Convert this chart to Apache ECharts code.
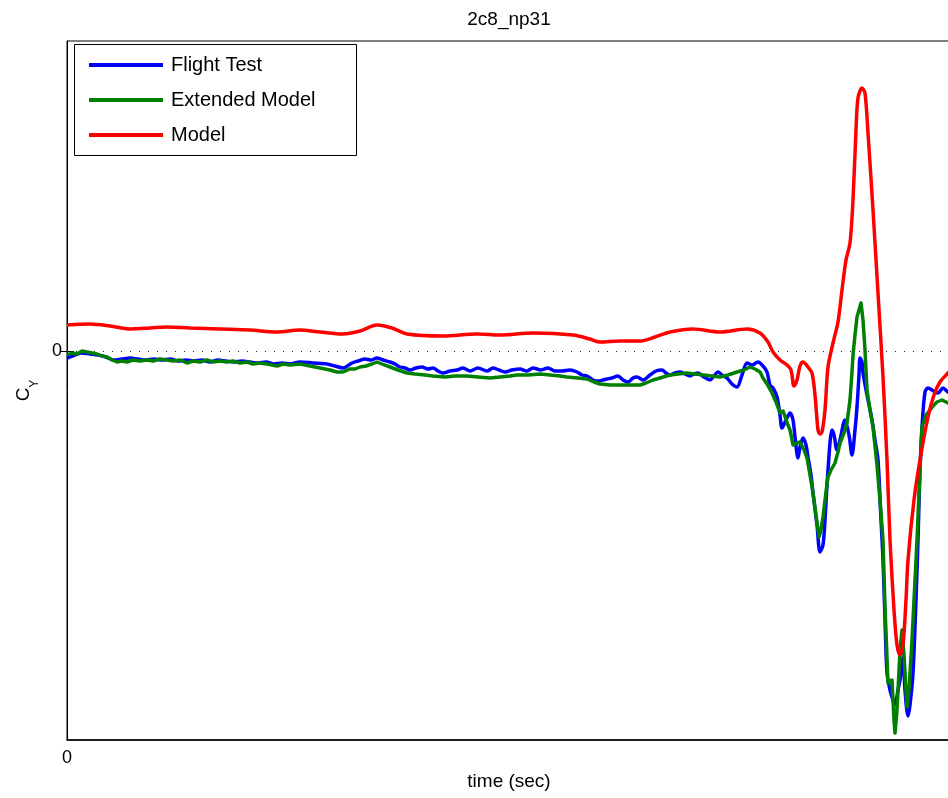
<!DOCTYPE html>
<html>
<head>
<meta charset="utf-8">
<title>2c8_np31</title>
<script src="https://cdn.jsdelivr.net/npm/echarts@6/dist/echarts.min.js"></script>
<style>
  html, body { margin: 0; padding: 0; background: #fff; }
  #chart { width: 948px; height: 798px; }
</style>
</head>
<body>
<div id="chart"></div>
<script>
// Side-force coefficient C_Y versus time for run 2c8_np31.

const seriesNames = ['Flight Test', 'Extended Model', 'Model'];
const xTickValues = [0];
const yTickValues = [0];

// Flight test record
const flightTime = [
  0.00, 0.08, 0.15, 0.23, 0.31, 0.39, 0.47, 0.55, 0.63, 0.71, 0.79, 0.87, 0.95, 1.03, 1.11, 1.19,
  1.27, 1.35, 1.43, 1.51, 1.59, 1.67, 1.75, 1.83, 1.91, 1.99, 2.07, 2.15, 2.23, 2.33, 2.46, 2.60,
  2.68, 2.76, 2.85, 2.91, 2.98, 3.04, 3.10, 3.16, 3.23, 3.28, 3.33, 3.38, 3.43, 3.49, 3.55, 3.61,
  3.66, 3.71, 3.76, 3.83, 3.90, 3.96, 4.03, 4.11, 4.20, 4.26, 4.32, 4.38, 4.45, 4.53, 4.60, 4.66,
  4.74, 4.81, 4.88, 4.95, 5.03, 5.10, 5.15, 5.20, 5.26, 5.31, 5.36, 5.40, 5.45, 5.51, 5.56, 5.61,
  5.66, 5.70, 5.76, 5.83, 5.89, 5.95, 5.99, 6.03, 6.08, 6.13, 6.18, 6.23, 6.27, 6.31, 6.37, 6.43,
  6.47, 6.51, 6.55, 6.60, 6.65, 6.70, 6.75, 6.80, 6.85, 6.91, 6.96, 7.00, 7.03, 7.06, 7.10, 7.13,
  7.15, 7.19, 7.23, 7.26, 7.28, 7.31, 7.33, 7.36, 7.39, 7.41, 7.44, 7.46, 7.50, 7.53, 7.56, 7.58,
  7.61, 7.65, 7.67, 7.70, 7.73, 7.78, 7.82, 7.85, 7.88, 7.90, 7.92, 7.93, 7.95, 7.96, 8.00, 8.05,
  8.08, 8.11, 8.14, 8.16, 8.18, 8.20, 8.23, 8.26, 8.28, 8.31, 8.33, 8.36, 8.38, 8.41, 8.43, 8.46,
  8.49, 8.51, 8.53, 8.55, 8.58, 8.61, 8.65, 8.68, 8.71, 8.76, 8.81, 8.84
];
const flightCY = [
  -0.007, -0.004, -0.002, -0.003, -0.004, -0.006, -0.009, -0.008, -0.007, -0.008, -0.009, -0.008, -0.009, -0.008, -0.010, -0.009,
  -0.010, -0.009, -0.011, -0.009, -0.010, -0.011, -0.010, -0.011, -0.012, -0.011, -0.013, -0.012, -0.013, -0.011, -0.012, -0.013,
  -0.015, -0.017, -0.012, -0.010, -0.008, -0.009, -0.007, -0.009, -0.011, -0.013, -0.016, -0.017, -0.019, -0.017, -0.016, -0.018,
  -0.017, -0.020, -0.022, -0.020, -0.019, -0.017, -0.020, -0.017, -0.020, -0.017, -0.019, -0.021, -0.019, -0.018, -0.020, -0.017,
  -0.019, -0.017, -0.020, -0.020, -0.019, -0.021, -0.024, -0.025, -0.029, -0.030, -0.029, -0.028, -0.027, -0.025, -0.029, -0.031,
  -0.027, -0.026, -0.029, -0.024, -0.020, -0.019, -0.022, -0.024, -0.022, -0.021, -0.023, -0.025, -0.023, -0.022, -0.026, -0.029,
  -0.025, -0.021, -0.024, -0.027, -0.033, -0.036, -0.024, -0.012, -0.014, -0.011, -0.015, -0.021, -0.034, -0.037, -0.046, -0.064,
  -0.077, -0.069, -0.062, -0.069, -0.086, -0.107, -0.096, -0.087, -0.094, -0.106, -0.124, -0.142, -0.174, -0.201, -0.194, -0.169,
  -0.119, -0.079, -0.084, -0.099, -0.089, -0.069, -0.084, -0.104, -0.079, -0.056, -0.024, -0.007, -0.011, -0.022, -0.044, -0.069,
  -0.089, -0.109, -0.169, -0.209, -0.269, -0.322, -0.339, -0.349, -0.354, -0.339, -0.329, -0.306, -0.339, -0.365, -0.354, -0.322,
  -0.249, -0.189, -0.119, -0.076, -0.041, -0.037, -0.039, -0.041, -0.042, -0.037, -0.041, -0.042
];

// Extended model prediction
const extTime = [
  0.00, 0.05, 0.10, 0.15, 0.20, 0.25, 0.30, 0.35, 0.40, 0.45, 0.50, 0.55, 0.60, 0.66, 0.73, 0.80,
  0.86, 0.93, 1.00, 1.06, 1.13, 1.20, 1.26, 1.33, 1.40, 1.46, 1.53, 1.60, 1.66, 1.73, 1.80, 1.86,
  1.93, 2.00, 2.10, 2.16, 2.23, 2.33, 2.43, 2.53, 2.63, 2.70, 2.76, 2.83, 2.88, 2.93, 2.99, 3.05,
  3.10, 3.15, 3.23, 3.31, 3.40, 3.48, 3.58, 3.66, 3.78, 3.88, 4.00, 4.11, 4.23, 4.33, 4.43, 4.50,
  4.61, 4.73, 4.83, 4.93, 5.00, 5.11, 5.20, 5.27, 5.33, 5.43, 5.53, 5.63, 5.73, 5.79, 5.86, 5.93,
  6.03, 6.11, 6.20, 6.28, 6.36, 6.45, 6.53, 6.61, 6.70, 6.77, 6.83, 6.88, 6.93, 6.96, 7.00, 7.05,
  7.09, 7.13, 7.16, 7.18, 7.21, 7.23, 7.26, 7.30, 7.33, 7.37, 7.40, 7.43, 7.46, 7.49, 7.52, 7.54,
  7.56, 7.59, 7.61, 7.64, 7.68, 7.71, 7.73, 7.77, 7.80, 7.83, 7.85, 7.86, 7.88, 7.90, 7.92, 7.94,
  7.96, 7.98, 8.00, 8.03, 8.06, 8.10, 8.13, 8.16, 8.18, 8.21, 8.23, 8.25, 8.27, 8.28, 8.30, 8.31,
  8.33, 8.35, 8.37, 8.38, 8.40, 8.42, 8.45, 8.48, 8.50, 8.53, 8.55, 8.59, 8.63, 8.67, 8.70, 8.75,
  8.81, 8.84
];
const extCY = [
  -0.004, -0.002, -0.003, 0.000, -0.001, -0.002, -0.003, -0.005, -0.006, -0.009, -0.011, -0.010, -0.011, -0.009, -0.010, -0.009,
  -0.010, -0.008, -0.009, -0.010, -0.009, -0.012, -0.010, -0.011, -0.009, -0.011, -0.010, -0.011, -0.010, -0.012, -0.011, -0.013,
  -0.012, -0.013, -0.015, -0.013, -0.014, -0.013, -0.015, -0.017, -0.019, -0.021, -0.021, -0.018, -0.018, -0.016, -0.015, -0.013,
  -0.011, -0.013, -0.016, -0.019, -0.022, -0.023, -0.024, -0.025, -0.026, -0.025, -0.025, -0.026, -0.027, -0.026, -0.025, -0.024,
  -0.024, -0.023, -0.024, -0.025, -0.026, -0.027, -0.028, -0.031, -0.033, -0.034, -0.034, -0.034, -0.034, -0.032, -0.029, -0.027,
  -0.024, -0.023, -0.022, -0.023, -0.024, -0.025, -0.026, -0.024, -0.021, -0.019, -0.016, -0.018, -0.021, -0.027, -0.033, -0.042,
  -0.051, -0.062, -0.060, -0.061, -0.074, -0.079, -0.094, -0.092, -0.091, -0.099, -0.107, -0.124, -0.142, -0.164, -0.186, -0.179,
  -0.166, -0.141, -0.126, -0.119, -0.112, -0.101, -0.092, -0.082, -0.072, -0.049, -0.021, -0.004, 0.016, 0.034, 0.041, 0.048,
  0.031, 0.001, -0.039, -0.059, -0.076, -0.114, -0.149, -0.189, -0.256, -0.332, -0.331, -0.329, -0.369, -0.382, -0.359, -0.339,
  -0.299, -0.279, -0.304, -0.322, -0.356, -0.339, -0.289, -0.229, -0.189, -0.119, -0.076, -0.064, -0.059, -0.054, -0.051, -0.049,
  -0.052, -0.053
];

// Baseline model prediction
const modelTime = [
  0.00, 0.23, 0.43, 0.63, 0.83, 1.00, 1.23, 1.53, 1.83, 2.10, 2.33, 2.53, 2.76, 2.93, 3.10, 3.25,
  3.40, 3.76, 4.10, 4.33, 4.66, 5.06, 5.23, 5.33, 5.53, 5.73, 5.88, 6.03, 6.26, 6.53, 6.80, 6.93,
  7.01, 7.06, 7.13, 7.20, 7.24, 7.27, 7.30, 7.33, 7.36, 7.41, 7.45, 7.48, 7.51, 7.53, 7.55, 7.58,
  7.61, 7.66, 7.71, 7.75, 7.79, 7.83, 7.86, 7.89, 7.91, 7.95, 7.98, 8.01, 8.06, 8.11, 8.16, 8.20,
  8.23, 8.27, 8.30, 8.33, 8.36, 8.39, 8.41, 8.47, 8.53, 8.61, 8.67, 8.73, 8.81, 8.84
];
const modelCY = [
  0.026, 0.027, 0.025, 0.022, 0.023, 0.024, 0.023, 0.022, 0.021, 0.019, 0.021, 0.019, 0.017, 0.020, 0.026, 0.023,
  0.017, 0.015, 0.017, 0.016, 0.018, 0.016, 0.012, 0.009, 0.010, 0.010, 0.014, 0.019, 0.022, 0.019, 0.022, 0.018,
  0.009, -0.001, -0.009, -0.014, -0.019, -0.035, -0.029, -0.015, -0.011, -0.016, -0.022, -0.044, -0.079, -0.083, -0.081, -0.059,
  -0.016, 0.008, 0.029, 0.061, 0.091, 0.108, 0.151, 0.221, 0.253, 0.263, 0.258, 0.218, 0.141, 0.058, -0.026, -0.109,
  -0.189, -0.259, -0.294, -0.304, -0.294, -0.249, -0.209, -0.149, -0.109, -0.066, -0.044, -0.031, -0.022, -0.019
];

// Axis extents
const timeMax = 8.84;
const cyMin = -0.389;
const cyMax = 0.310;

function pairs(xs, ys) {
  return xs.map((x, i) => [x, ys[i]]);
}

const FONT = '"Liberation Sans", Arial, Helvetica, sans-serif';
const chart = echarts.init(document.getElementById('chart'), null, { renderer: 'canvas' });

chart.setOption({
  animation: false,
  backgroundColor: '#ffffff',
  textStyle: { fontFamily: FONT },
  title: {
    text: '2c8_np31',
    left: 509,
    textAlign: 'center',
    top: 10,
    padding: 0,
    textStyle: { fontFamily: FONT, fontSize: 19, fontWeight: 'normal', color: '#000' }
  },
  grid: {
    left: 67, right: -3, top: 41, bottom: 58,
    outerBoundsMode: 'none',
    containLabel: false,
    show: true, borderColor: '#000', borderWidth: 1, backgroundColor: 'transparent'
  },
  legend: {
    data: seriesNames,
    orient: 'vertical',
    left: 89,
    top: 55,
    padding: 0,
    itemGap: 15,
    itemWidth: 74,
    itemHeight: 4,
    icon: 'rect',
    textStyle: { fontFamily: FONT, fontSize: 20, lineHeight: 20, color: '#000', padding: [0, 0, 0, 3] }
  },
  graphic: [{
    type: 'rect',
    shape: { x: 74.5, y: 44.5, width: 282, height: 111 },
    style: { fill: 'none', stroke: '#000', lineWidth: 1 },
    z: 90
  }],
  xAxis: {
    type: 'value',
    min: 0,
    max: timeMax,
    name: 'time (sec)',
    nameLocation: 'middle',
    nameGap: 30,
    nameTextStyle: { fontFamily: FONT, fontSize: 19, color: '#000' },
    axisLine: { show: true, onZero: false, lineStyle: { color: '#000', width: 1.5 } },
    axisTick: { show: false },
    splitLine: { show: false },
    axisLabel: {
      customValues: xTickValues,
      formatter: (v) => String(v),
      margin: 9,
      fontFamily: FONT, fontSize: 18, color: '#000'
    }
  },
  yAxis: [{
    type: 'value',
    position: 'left',
    min: cyMin,
    max: cyMax,
    name: '{c|C}{s|Y}',
    nameLocation: 'middle',
    nameGap: 28,
    nameTextStyle: {
      color: '#000',
      rich: {
        c: { fontFamily: FONT, fontSize: 19, lineHeight: 19, color: '#000', verticalAlign: 'top' },
        s: { fontFamily: FONT, fontSize: 12, lineHeight: 12, color: '#000', verticalAlign: 'top', padding: [15, 0, 0, 0] }
      }
    },
    axisLine: { show: true, onZero: false, lineStyle: { color: '#000', width: 1 } },
    axisTick: { show: true, inside: true, length: 7, customValues: yTickValues, lineStyle: { color: '#000' } },
    splitLine: { show: false },
    axisLabel: {
      customValues: yTickValues,
      formatter: (v) => String(v),
      margin: 5,
      fontFamily: FONT, fontSize: 18, color: '#000'
    }
  }, {
    type: 'value',
    position: 'right',
    min: cyMin,
    max: cyMax,
    axisLine: { show: false },
    axisTick: { show: true, inside: true, length: 7, customValues: yTickValues, lineStyle: { color: '#000' } },
    splitLine: { show: false },
    axisLabel: { show: false }
  }],
  series: [{
    name: seriesNames[0],
    type: 'line',
    data: pairs(flightTime, flightCY),
    showSymbol: false,
    smooth: 0.3,
    color: '#0000ff',
    lineStyle: { color: '#0000ff', width: 3.5 },
    z: 2,
    markLine: {
      silent: true,
      symbol: ['none', 'none'],
      label: { show: false },
      lineStyle: { color: '#222', width: 1, type: [1, 8] },
      data: [{ yAxis: 0 }],
      z: 1
    }
  }, {
    name: seriesNames[1],
    type: 'line',
    data: pairs(extTime, extCY),
    showSymbol: false,
    smooth: false,
    color: '#008000',
    lineStyle: { color: '#008000', width: 3.5, join: 'round' },
    z: 3
  }, {
    name: seriesNames[2],
    type: 'line',
    data: pairs(modelTime, modelCY),
    showSymbol: false,
    smooth: 0.3,
    color: '#ff0000',
    lineStyle: { color: '#ff0000', width: 3.5 },
    z: 4
  }]
});
</script>
</body>
</html>
